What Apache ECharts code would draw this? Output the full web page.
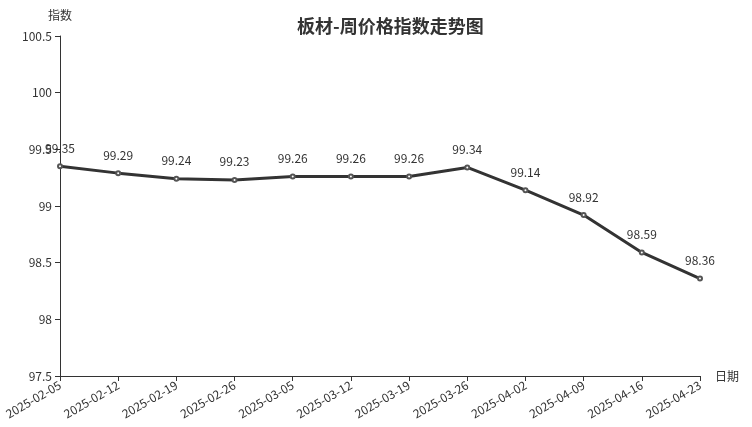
<!DOCTYPE html>
<html>
<head>
<meta charset="utf-8">
<script src="https://cdn.jsdelivr.net/npm/echarts@6/dist/echarts.min.js"></script>
<style>html,body{margin:0;padding:0;background:#fff}#c{width:752px;height:427px}</style>
</head>
<body>
<div id="c"></div>
<script>
const categories = ['2025-02-05','2025-02-12','2025-02-19','2025-02-26','2025-03-05','2025-03-12','2025-03-19','2025-03-26','2025-04-02','2025-04-09','2025-04-16','2025-04-23'];
const values = [99.35,99.29,99.24,99.23,99.26,99.26,99.26,99.34,99.14,98.92,98.59,98.36];
const chart = echarts.init(document.getElementById('c'));
const font = '"Noto Sans CJK SC", "Noto Sans", sans-serif';
chart.setOption({
  animation: false,
  textStyle: {fontFamily: font},
  title: {
    text: '板材-周价格指数走势图',
    left: 292, top: 12,
    textStyle: {fontSize: 18, fontWeight: 'bold', color: '#333', fontFamily: font}
  },
  grid: {left: 60, right: 52, top: 36, bottom: 51, containLabel: false},
  xAxis: {
    type: 'category',
    data: categories,
    boundaryGap: false,
    name: '日期',
    nameGap: 15,
    nameTextStyle: {color: '#333', fontSize: 12},
    axisLine: {lineStyle: {color: '#333'}},
    axisTick: {alignWithLabel: true, lineStyle: {color: '#333'}},
    axisLabel: {rotate: 30, color: '#333', fontSize: 12, interval: 0}
  },
  yAxis: {
    type: 'value',
    min: 97.5, max: 100.5, interval: 0.5,
    name: '指数',
    nameGap: 15,
    nameTextStyle: {color: '#333', fontSize: 12},
    axisLine: {show: true, lineStyle: {color: '#333'}},
    axisTick: {show: true, lineStyle: {color: '#333'}},
    axisLabel: {color: '#333', fontSize: 12},
    splitLine: {show: false}
  },
  series: [{
    type: 'line',
    data: values,
    symbol: 'emptyCircle',
    symbolSize: 4,
    lineStyle: {color: '#333', width: 3},
    itemStyle: {color: '#555', borderWidth: 1},
    label: {show: true, position: 'top', distance: 9, color: '#333', fontSize: 12}
  }]
});
</script>
</body>
</html>
